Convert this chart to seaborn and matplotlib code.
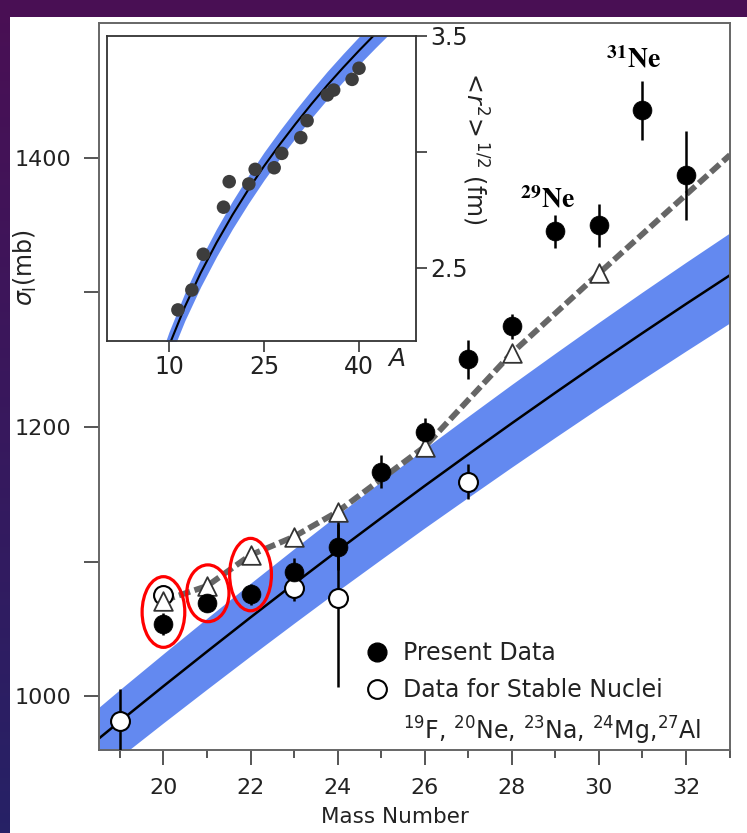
import numpy as np
import pandas as pd
import matplotlib
matplotlib.use("Agg")
import matplotlib.pyplot as plt
import seaborn as sns
from matplotlib.patches import Ellipse, Rectangle
from matplotlib.lines import Line2D

# ---------------- data ----------------
present_A = [20, 21, 22, 23, 24, 25, 26, 27, 28, 29, 30, 31, 32]
present_sigma = [1053.5, 1069.4, 1075.6, 1092.4, 1111.0, 1166.8, 1196.5,
                 1250.3, 1274.6, 1345.2, 1349.7, 1435.2, 1386.8]
present_err = [8, 7, 8, 10, 17, 12, 10, 14.5, 9, 12, 16, 22, 33]

stable_A = [19, 20, 23, 24, 27]
stable_sigma = [981.6, 1075.0, 1080.0, 1072.6, 1159.3]
stable_err = [24, 0, 9, 66, 13]

calc_A = [20, 21, 22, 23, 24, 26, 28, 30]
calc_sigma = [1071.0, 1081.8, 1104.8, 1118.5, 1137.0, 1185.3, 1254.8, 1314.0]
dash_A = [20, 21, 22, 23, 24, 26, 28, 30, 33.01]
dash_sigma = [1071.0, 1081.8, 1104.8, 1118.5, 1137.0, 1185.3, 1254.8, 1314.0, 1402.0]

syst_A = [18.52, 19, 20, 21, 22, 23, 24, 25, 26, 27, 28, 29, 30, 31, 32, 33.01]
syst_mid = [968.6, 981.3, 1007.4, 1033.1, 1058.5, 1083.5, 1108.1, 1132.3,
            1156.2, 1179.6, 1202.7, 1225.4, 1247.8, 1269.7, 1291.3, 1312.7]
syst_hi = [991.8, 1004.9, 1031.6, 1057.9, 1083.9, 1109.5, 1134.7, 1159.5,
           1183.9, 1207.9, 1231.6, 1254.8, 1277.7, 1300.2, 1322.3, 1344.2]
syst_lo = [942.4, 954.8, 980.2, 1005.2, 1029.9, 1054.2, 1078.2, 1101.7,
           1125.0, 1147.7, 1170.2, 1192.3, 1214.1, 1235.4, 1256.4, 1277.3]

circled_A = [20.0, 21.02, 22.0]
circled_sigma = [1062.5, 1076.4, 1090.3]
circled_w = [0.98, 0.97, 0.96]
circled_h = [52.5, 42.2, 53.8]

xticks_major = [20, 22, 24, 26, 28, 30, 32]
yticks_major = [1000, 1200, 1400]

# inset: rms radius vs A
inset_A = [11.4, 13.6, 15.4, 18.6, 19.5, 22.6, 23.6, 26.6, 27.8, 30.8, 31.8,
           35.0, 36.0, 38.9, 40.0]
inset_r = [2.319, 2.405, 2.559, 2.762, 2.872, 2.862, 2.925, 2.932, 2.994,
           3.062, 3.135, 3.246, 3.267, 3.313, 3.361]
curve_A = [8, 10, 12.5, 15, 17.5, 20, 22.5, 25, 27.5, 30, 32.5, 35, 37.5,
           40, 42.5, 45, 47.5, 50]
curve_r = [2.010, 2.165, 2.333, 2.479, 2.609, 2.728, 2.837, 2.939, 3.033,
           3.122, 3.207, 3.288, 3.364, 3.437, 3.507, 3.575, 3.640, 3.703]
curve_hi = [2.070, 2.225, 2.393, 2.539, 2.669, 2.788, 2.897, 2.999, 3.093,
            3.182, 3.267, 3.348, 3.424, 3.497, 3.567, 3.635, 3.700, 3.763]
curve_lo = [1.950, 2.105, 2.273, 2.419, 2.549, 2.668, 2.777, 2.879, 2.973,
            3.062, 3.147, 3.228, 3.304, 3.377, 3.447, 3.515, 3.580, 3.643]

# ---------------- style ----------------
sns.set_style("ticks")
plt.rcParams["font.family"] = ["DejaVu Sans"]

W, H = 747, 833
fig = plt.figure(figsize=(W / 100, H / 100), dpi=100)


def fx(x):
    return x / W


def fy(y):
    return 1 - y / H


# background: purple slide + white picture area
bg = fig.add_axes([0, 0, 1, 1], zorder=-10)
grad = np.linspace(0, 1, 256).reshape(-1, 1)
top_c = np.array([0.29, 0.06, 0.33])
bot_c = np.array([0.15, 0.13, 0.40])
img = top_c[None, None, :] * (1 - grad[..., None]) + bot_c[None, None, :] * grad[..., None]
bg.imshow(img, aspect="auto", extent=[0, 1, 0, 1], origin="upper")
bg.add_patch(Rectangle((fx(10), 0), 1 - fx(10), fy(17), color="white", lw=0))
bg.set_xlim(0, 1)
bg.set_ylim(0, 1)
bg.axis("off")

# ---------------- main axes ----------------
ax = fig.add_axes([fx(99), fy(750), fx(730) - fx(99), fy(23) - fy(750)])
ax.set_facecolor("white")
blue = "#6389f0"

ax.fill_between(syst_A, syst_lo, syst_hi, color=blue, lw=0, zorder=1)
sns.lineplot(x=syst_A, y=syst_mid, ax=ax, color="black", lw=1.8,
             estimator=None, sort=False, zorder=2)
sns.lineplot(x=dash_A, y=dash_sigma, ax=ax, color="#666666", lw=4.2,
             estimator=None, sort=False, zorder=3)
ax.lines[-1].set_dashes([2.0, 0.8])

ax.errorbar(present_A, present_sigma, yerr=present_err, fmt="none",
            ecolor="black", elinewidth=1.8, capsize=0, zorder=4)
ax.errorbar(stable_A, stable_sigma, yerr=stable_err, fmt="none",
            ecolor="black", elinewidth=1.8, capsize=0, zorder=4)

sns.scatterplot(x=stable_A, y=stable_sigma, ax=ax, marker="o", s=185,
                color="white", edgecolor="black", linewidth=1.5, zorder=5)
sns.scatterplot(x=calc_A, y=calc_sigma, ax=ax, marker="^", s=180,
                color="white", edgecolor="#333333", linewidth=1.3, zorder=6)
sns.scatterplot(x=present_A, y=present_sigma, ax=ax, marker="o", s=185,
                color="black", edgecolor="black", linewidth=0.5, zorder=7)

for a, s, w, h in zip(circled_A, circled_sigma, circled_w, circled_h):
    ax.add_patch(Ellipse((a, s), w, h, fill=False, edgecolor="red", lw=2.3, zorder=8))

ax.set_xlim(18.52, 33.01)
ax.set_ylim(960, 1500)
ax.set_xticks(xticks_major)
ax.set_xticks(list(range(19, 34, 2)), minor=True)
ax.set_yticks(yticks_major)
ax.set_yticks([1100, 1300], minor=True)
ax.set_xlabel("")
ax.set_ylabel("")
ax.tick_params(axis="both", which="major", direction="out", length=11, width=1.4,
               color="#555555", labelsize=16, labelcolor="#222222")
ax.tick_params(axis="y", which="major", pad=9)
ax.tick_params(axis="x", which="major", pad=9)
ax.tick_params(axis="x", which="minor", direction="out", length=6, width=1.4, color="#555555")
ax.tick_params(axis="y", which="minor", direction="out", length=11, width=1.4, color="#555555")
for sp in ax.spines.values():
    sp.set_visible(True)
    sp.set_color("#666666")
    sp.set_linewidth(1.4)

# legend
h1 = Line2D([], [], marker="o", color="black", ls="none", markersize=13.5)
h2 = Line2D([], [], marker="o", markerfacecolor="white", markeredgecolor="black",
            markeredgewidth=1.5, ls="none", markersize=13.5)
h3 = Line2D([], [], ls="none")
leg = ax.legend([h1, h2, h3],
                ["Present Data", "Data for Stable Nuclei",
                 r"$^{19}$F, $^{20}$Ne, $^{23}$Na, $^{24}$Mg,$^{27}$Al"],
                loc="upper left", bbox_to_anchor=(fx(366), fy(641)),
                bbox_transform=fig.transFigure, frameon=False, fontsize=17,
                handlelength=0.9, handletextpad=0.65, borderpad=0,
                borderaxespad=0, labelspacing=0.55)
for t in leg.get_texts():
    t.set_color("#222222")

# axis labels as free text
fig.text(fx(395), fy(817), "Mass Number", ha="center", va="center",
         fontsize=15.5, color="#222222")
fig.text(fx(25), fy(268), r"$\sigma_{\rm I}$(mb)", ha="center", va="center",
         rotation=90, fontsize=17, color="#222222")

# nuclide labels
fig.text(fx(633), fy(60), r"$^{\mathbf{31}}\mathbf{Ne}$", ha="center", va="center",
         fontsize=20, math_fontfamily="stix", color="black")
fig.text(fx(547), fy(199), r"$^{\mathbf{29}}\mathbf{Ne}$", ha="center", va="center",
         fontsize=20, math_fontfamily="stix", color="black")

# ---------------- inset ----------------
axi = fig.add_axes([fx(107), fy(341), fx(416) - fx(107), fy(36) - fy(341)], zorder=5)
axi.set_facecolor("white")
axi.fill_between(curve_A, curve_lo, curve_hi, color=blue, lw=0, zorder=1)
sns.lineplot(x=curve_A, y=curve_r, ax=axi, color="black", lw=1.5,
             estimator=None, sort=False, zorder=2)
sns.scatterplot(x=inset_A, y=inset_r, ax=axi, s=95, color="#3d3d3d",
                edgecolor="none", zorder=3)
axi.set_xlim(0.2, 49.0)
axi.set_ylim(2.185, 3.5)
axi.set_xticks([10, 25, 40])
axi.set_yticks([2.5, 3.0, 3.5])
axi.set_yticklabels(["2.5", "", "3.5"])
axi.yaxis.tick_right()
axi.set_xlabel("")
axi.set_ylabel("")
axi.tick_params(axis="both", direction="out", length=8, width=1.3, color="#444444",
                labelsize=17, labelcolor="#222222", pad=2)
for sp in axi.spines.values():
    sp.set_visible(True)
    sp.set_color("#333333")
    sp.set_linewidth(1.3)

fig.text(fx(397), fy(359), "A", ha="center", va="center", fontsize=18,
         style="italic", color="#222222")
fig.text(fx(475), fy(146), r"$<\!r^{2}\!>^{1/2}$ (fm)", ha="center", va="center",
         rotation=-90, fontsize=17, color="#222222")

fig.savefig("out.png", dpi=100, facecolor=fig.get_facecolor())
